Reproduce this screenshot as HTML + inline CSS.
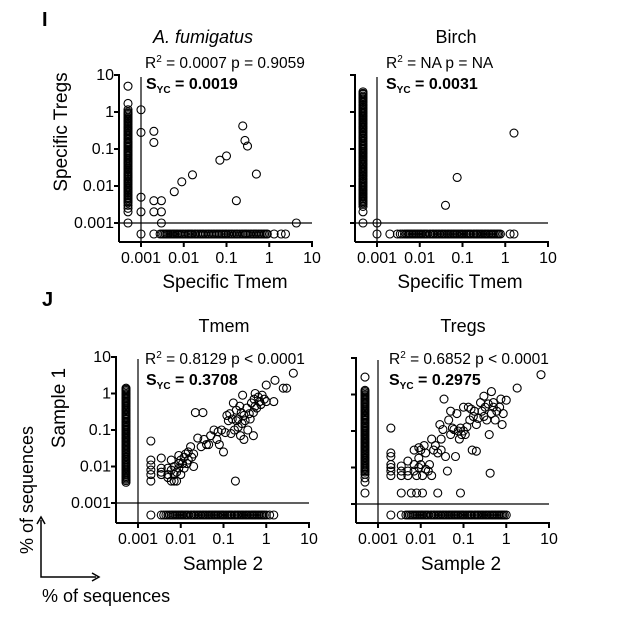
<!DOCTYPE html>
<html><head><meta charset="utf-8"><style>
body{margin:0;background:#fff;}
svg text{font-family:"Liberation Sans",Arial,sans-serif;fill:#000;}
</style></head><body>
<svg id="chart" width="640" height="619" viewBox="0 0 640 619" xmlns="http://www.w3.org/2000/svg">
<text x="42" y="26" font-size="20" font-weight="bold">I</text>
<text x="42" y="306" font-size="20" font-weight="bold">J</text>
<text x="203" y="43" font-size="18" font-style="italic" text-anchor="middle">A. fumigatus</text>
<text x="456" y="43" font-size="18" text-anchor="middle">Birch</text>
<text x="224" y="332" font-size="18" text-anchor="middle">Tmem</text>
<text x="463" y="332" font-size="18" text-anchor="middle">Tregs</text>
<text x="145" y="68" font-size="15.5">R<tspan font-size="10" dy="-6">2</tspan><tspan dy="6"> = 0.0007 p = 0.9059</tspan></text>
<text x="146" y="89" font-size="16" font-weight="bold">S<tspan font-size="10" dy="4">YC</tspan><tspan dy="-4"> = 0.0019</tspan></text>
<text x="386" y="68" font-size="15.5">R<tspan font-size="10" dy="-6">2</tspan><tspan dy="6"> = NA p = NA</tspan></text>
<text x="386" y="89" font-size="16" font-weight="bold">S<tspan font-size="10" dy="4">YC</tspan><tspan dy="-4"> = 0.0031</tspan></text>
<text x="145" y="364" font-size="15.5">R<tspan font-size="10" dy="-6">2</tspan><tspan dy="6"> = 0.8129 p &lt; 0.0001</tspan></text>
<text x="146" y="385" font-size="16" font-weight="bold">S<tspan font-size="10" dy="4">YC</tspan><tspan dy="-4"> = 0.3708</tspan></text>
<text x="389" y="364" font-size="15.5">R<tspan font-size="10" dy="-6">2</tspan><tspan dy="6"> = 0.6852 p &lt; 0.0001</tspan></text>
<text x="389" y="385" font-size="16" font-weight="bold">S<tspan font-size="10" dy="4">YC</tspan><tspan dy="-4"> = 0.2975</tspan></text>
<text x="225" y="288" font-size="19" text-anchor="middle">Specific Tmem</text>
<text x="460" y="288" font-size="19" text-anchor="middle">Specific Tmem</text>
<text transform="translate(67,132) rotate(-90)" font-size="19" text-anchor="middle">Specific Tregs</text>
<text x="223" y="570" font-size="19" text-anchor="middle">Sample 2</text>
<text x="461" y="570" font-size="19" text-anchor="middle">Sample 2</text>
<text transform="translate(65,408) rotate(-90)" font-size="19" text-anchor="middle">Sample 1</text>
<text transform="translate(33,490) rotate(-90)" font-size="18" text-anchor="middle">% of sequences</text>
<text x="42" y="602" font-size="18">% of sequences</text>
<path d="M41,520 V577 H96" fill="none" stroke="#000" stroke-width="1.5"/>
<path d="M37,524 L41,517 L45,524" fill="none" stroke="#000" stroke-width="1.5"/>
<path d="M92,573 L99,577 L92,581" fill="none" stroke="#000" stroke-width="1.5"/>
<g id="plots"></g>
</svg>
<script>
// ---- Data (values in % of sequences; 0 = absent, plotted in zero column/row) ----
const tickLabels = ["0.001","0.01","0.1","1","10"];
const tickValues = [0.001,0.01,0.1,1,10];

const afumZeroColY = [5,1.7,1.15,1.0,0.92,0.85,0.78,0.7,0.65,0.6,0.55,0.5,0.46,0.42,0.38,0.35,0.32,0.3,0.27,0.25,0.23,0.21,0.19,0.18,0.16,0.15,0.14,0.13,0.12,0.11,0.1,0.09,0.084,0.078,0.072,0.066,0.061,0.056,0.051,0.047,0.043,0.04,0.037,0.034,0.031,0.029,0.027,0.024,0.022,0.02,0.0185,0.017,0.0155,0.014,0.013,0.012,0.011,0.01,0.0092,0.0085,0.0078,0.0072,0.0066,0.006,0.0055,0.005,0.0046,0.0042,0.0038,0.0035,0.003,0.0025,0.002,0.001];
const afumZeroRowX = [0.001,0.002,0.0028,0.0031,0.0034,0.0037,0.004,0.0043,0.0047,0.005,0.0054,0.0058,0.0062,0.0067,0.0072,0.0078,0.0085,0.0092,0.01,0.011,0.012,0.013,0.014,0.015,0.016,0.018,0.019,0.021,0.023,0.025,0.027,0.029,0.032,0.035,0.038,0.041,0.045,0.049,0.053,0.058,0.063,0.068,0.074,0.08,0.087,0.095,0.1,0.11,0.12,0.13,0.14,0.155,0.17,0.18,0.2,0.22,0.24,0.26,0.28,0.3,0.33,0.36,0.39,0.43,0.47,0.51,0.56,0.61,0.66,0.72,0.78,0.85,0.9,1.3,1.9,2.4];
const afumX = [0.001,0.001,0.001,0.001,0.002,0.002,0.002,0.002,0.003,0.003,0.003,0.006,0.009,0.016,0.07,0.1,0.24,0.27,0.31,0.5,0.17,4.3];
const afumY = [1.15,0.28,0.005,0.002,0.3,0.15,0.004,0.002,0.004,0.002,0.001,0.007,0.013,0.02,0.05,0.065,0.42,0.17,0.12,0.021,0.004,0.001];

const birchZeroColY = [3.5,3.2,3.0,2.7,2.5,2.3,2.1,1.9,1.8,1.6,1.5,1.35,1.25,1.15,1.05,0.97,0.9,0.82,0.75,0.69,0.63,0.58,0.53,0.49,0.45,0.41,0.38,0.35,0.32,0.29,0.27,0.24,0.22,0.2,0.19,0.17,0.16,0.145,0.135,0.125,0.115,0.105,0.097,0.089,0.082,0.075,0.069,0.063,0.058,0.053,0.049,0.045,0.041,0.038,0.035,0.032,0.029,0.027,0.025,0.023,0.021,0.019,0.018,0.016,0.015,0.0135,0.0125,0.0115,0.0105,0.0097,0.009,0.0082,0.0075,0.0069,0.0063,0.0058,0.0053,0.0049,0.0045,0.0041,0.0038,0.0035,0.0032,0.0028,0.002,0.001];
const birchZeroRowX = [0.001,0.002,0.003,0.0035,0.0039,0.0044,0.0048,0.0052,0.0056,0.006,0.0065,0.007,0.0076,0.0082,0.0089,0.0096,0.0104,0.011,0.012,0.013,0.014,0.015,0.017,0.018,0.02,0.021,0.023,0.025,0.027,0.029,0.032,0.034,0.037,0.04,0.044,0.047,0.051,0.055,0.06,0.064,0.07,0.075,0.082,0.088,0.095,0.1,0.11,0.12,0.13,0.14,0.15,0.16,0.18,0.19,0.21,0.22,0.24,0.26,0.28,0.3,0.33,0.35,0.38,0.41,0.45,0.48,0.52,0.56,0.61,0.66,0.71,0.77,1.3,1.6];
const birchX = [0.001,0.04,0.075,1.6];
const birchY = [0.001,0.003,0.017,0.27];

const tmemZeroColY = [1.4,1.3,1.2,1.1,1.0,0.93,0.85,0.78,0.72,0.66,0.61,0.56,0.52,0.48,0.44,0.4,0.37,0.34,0.31,0.28,0.26,0.24,0.22,0.2,0.19,0.17,0.16,0.145,0.135,0.125,0.115,0.105,0.097,0.089,0.082,0.075,0.069,0.063,0.058,0.053,0.049,0.045,0.041,0.038,0.035,0.032,0.029,0.027,0.025,0.023,0.021,0.019,0.018,0.016,0.015,0.0135,0.0125,0.0115,0.0105,0.0097,0.009,0.0082,0.0075,0.0069,0.0063,0.0058,0.0053,0.0049,0.0045,0.0041,0.0037];
const tmemZeroRowX = [0.002,0.0035,0.004,0.0045,0.005,0.0055,0.006,0.0065,0.007,0.0076,0.0082,0.0089,0.0096,0.0104,0.011,0.012,0.013,0.014,0.015,0.017,0.018,0.02,0.021,0.023,0.025,0.027,0.029,0.032,0.034,0.037,0.04,0.044,0.047,0.051,0.055,0.06,0.064,0.07,0.075,0.082,0.088,0.095,0.1,0.11,0.12,0.13,0.14,0.15,0.16,0.18,0.19,0.21,0.22,0.24,0.26,0.28,0.3,0.33,0.35,0.38,0.41,0.45,0.48,0.52,0.56,0.61,0.66,0.71,0.77,0.83,0.9,1.0,1.2,1.5];
const tmemX = [0.002,0.002,0.002,0.002,0.002,0.002,0.0035,0.0035,0.0035,0.0035,0.005,0.005,0.005,0.006,0.006,0.006,0.007,0.007,0.007,0.008,0.008,0.009,0.009,0.009,0.01,0.01,0.011,0.012,0.012,0.013,0.014,0.015,0.015,0.017,0.018,0.02,0.02,0.022,0.025,0.03,0.033,0.035,0.04,0.045,0.05,0.06,0.07,0.075,0.08,0.09,0.1,0.11,0.12,0.13,0.14,0.15,0.16,0.17,0.18,0.19,0.2,0.2,0.22,0.22,0.24,0.25,0.26,0.27,0.28,0.3,0.3,0.32,0.35,0.37,0.4,0.42,0.45,0.5,0.5,0.52,0.55,0.55,0.6,0.65,0.7,0.75,0.8,0.9,1.0,1.0,1.5,1.6,2.5,3.0,4.3];
const tmemY = [0.05,0.015,0.011,0.008,0.006,0.004,0.017,0.009,0.007,0.006,0.009,0.006,0.005,0.015,0.008,0.004,0.01,0.006,0.004,0.007,0.004,0.02,0.012,0.009,0.006,0.015,0.012,0.018,0.009,0.022,0.012,0.025,0.015,0.035,0.018,0.01,0.022,0.3,0.06,0.035,0.3,0.055,0.04,0.04,0.07,0.1,0.055,0.09,0.04,0.1,0.025,0.085,0.25,0.18,0.28,0.08,0.2,0.55,0.1,0.004,0.18,0.35,0.12,0.2,0.45,0.07,0.3,0.15,0.9,0.055,0.25,0.18,0.4,0.1,0.28,0.2,0.55,0.3,0.07,0.7,0.45,1.0,0.4,0.8,0.6,0.5,0.9,0.7,0.6,1.7,0.6,2.3,1.4,1.4,3.6];

const tregsZeroColY = [3.0,1.3,1.2,1.1,1.0,0.93,0.85,0.78,0.72,0.66,0.61,0.56,0.52,0.48,0.44,0.4,0.37,0.34,0.31,0.28,0.26,0.24,0.22,0.2,0.19,0.17,0.16,0.145,0.135,0.125,0.115,0.105,0.097,0.089,0.082,0.075,0.069,0.063,0.058,0.053,0.049,0.045,0.041,0.038,0.035,0.032,0.029,0.027,0.025,0.023,0.021,0.019,0.018,0.016,0.015,0.0135,0.0125,0.0115,0.0105,0.0097,0.009,0.0082,0.0075,0.0065,0.0052,0.004,0.002];
const tregsZeroRowX = [0.002,0.0035,0.0045,0.005,0.0055,0.006,0.0065,0.007,0.0076,0.0082,0.0089,0.0096,0.0104,0.011,0.012,0.013,0.014,0.015,0.017,0.018,0.02,0.021,0.023,0.025,0.027,0.029,0.032,0.034,0.037,0.04,0.044,0.047,0.051,0.055,0.06,0.064,0.07,0.075,0.082,0.088,0.095,0.1,0.11,0.12,0.13,0.14,0.15,0.16,0.18,0.19,0.21,0.22,0.24,0.26,0.28,0.3,0.33,0.35,0.38,0.41,0.45,0.48,0.52,0.56,0.61,0.66,0.71,0.77,0.83,0.9,1.0];
const tregsX = [0.002,0.002,0.002,0.002,0.002,0.002,0.002,0.0035,0.0035,0.0035,0.0035,0.005,0.005,0.005,0.006,0.007,0.007,0.007,0.008,0.008,0.009,0.009,0.009,0.01,0.01,0.011,0.011,0.012,0.013,0.013,0.015,0.016,0.018,0.018,0.02,0.022,0.025,0.025,0.028,0.03,0.03,0.033,0.035,0.038,0.042,0.045,0.05,0.05,0.055,0.06,0.065,0.07,0.075,0.08,0.085,0.085,0.09,0.1,0.1,0.11,0.12,0.13,0.14,0.15,0.16,0.17,0.18,0.2,0.2,0.22,0.25,0.27,0.3,0.3,0.32,0.35,0.38,0.4,0.42,0.45,0.45,0.5,0.5,0.55,0.6,0.7,0.75,0.8,0.85,1.0,1.8,6.5];
const tregsY = [0.12,0.025,0.02,0.012,0.01,0.008,0.006,0.011,0.008,0.006,0.002,0.015,0.008,0.006,0.002,0.03,0.012,0.008,0.006,0.002,0.035,0.018,0.01,0.03,0.012,0.006,0.002,0.04,0.025,0.009,0.008,0.012,0.06,0.006,0.03,0.04,0.025,0.002,0.15,0.03,0.06,0.11,0.75,0.02,0.008,0.2,0.08,0.35,0.12,0.11,0.02,0.3,0.1,0.06,0.12,0.002,0.08,0.1,0.45,0.08,0.13,0.45,0.2,0.4,0.03,0.25,0.35,0.028,0.15,0.22,0.6,0.35,0.25,0.9,0.45,0.2,0.55,0.08,0.007,0.3,1.2,0.45,0.6,0.2,0.35,0.45,0.75,0.15,0.3,0.7,1.5,3.5];

// ---- Panels (layout only) ----
const NS = "http://www.w3.org/2000/svg";
const root = document.getElementById("plots");
const panels = [
  {id:"afum", ax:119, xo:141, dx:42.75, yb:242, yo:223, dy:37, zcx:128, zry:234, labels:true, zc:afumZeroColY, zr:afumZeroRowX, xs:afumX, ys:afumY},
  {id:"birch", ax:355, xo:377, dx:42.75, yb:242, yo:223, dy:37, zcx:363, zry:234, labels:false, zc:birchZeroColY, zr:birchZeroRowX, xs:birchX, ys:birchY},
  {id:"tmem", ax:116, xo:138, dx:42.75, yb:523, yo:503, dy:36.5, zcx:126, zry:515, labels:true, zc:tmemZeroColY, zr:tmemZeroRowX, xs:tmemX, ys:tmemY},
  {id:"tregs", ax:356, xo:378, dx:42.75, yb:523, yo:504, dy:36.5, zcx:365, zry:515, labels:false, zc:tregsZeroColY, zr:tregsZeroRowX, xs:tregsX, ys:tregsY}
];
function mk(tag, attrs, parent){const e=document.createElementNS(NS,tag);for(const k in attrs)e.setAttribute(k,attrs[k]);parent.appendChild(e);return e;}
panels.forEach(p=>{
  const g = mk("g",{},root);
  
  
  const sx = v => v<=0 ? p.zcx : p.xo + (Math.log10(v)+3)*p.dx;
  const sy = v => v<=0 ? p.zry : p.yo - (Math.log10(v)+3)*p.dy;
  const xEnd = sx(10), yTop = sy(10);
  const yAxis = mk("line",{x1:p.ax,y1:yTop-1,x2:p.ax,y2:p.yb,stroke:"#000","stroke-width":2},g);
  
  
  const xAxis = mk("line",{x1:p.ax,y1:p.yb,x2:xEnd+1,y2:p.yb,stroke:"#000","stroke-width":2},g);
  
  
  const vl = mk("line",{x1:p.xo,y1:yTop+2,x2:p.xo,y2:p.yb,stroke:"#000","stroke-width":1.2},g);
  
  
  const hl = mk("line",{x1:p.ax,y1:p.yo,x2:xEnd,y2:p.yo,stroke:"#000","stroke-width":1.2},g);
  
  
  tickValues.forEach((v,i)=>{
    const tx = mk("line",{x1:sx(v),y1:p.yb,x2:sx(v),y2:p.yb+5,stroke:"#000","stroke-width":2},g);
    
    
    const tl = mk("text",{x:sx(v),y:p.yb+21,"font-size":16,"text-anchor":"middle"},g);
    tl.textContent = tickLabels[i];
    
    
    const ty = mk("line",{x1:p.ax-5,y1:sy(v),x2:p.ax,y2:sy(v),stroke:"#000","stroke-width":2},g);
    
    
    if(p.labels){
      const yl = mk("text",{x:p.ax-5,y:sy(v)+5,"font-size":16,"text-anchor":"end"},g);
      yl.textContent = tickLabels[i];
      
      
    }
  });
  const dot = (x,y)=>{
    const c = mk("circle",{cx:sx(x),cy:sy(y),r:4,fill:"none",stroke:"#000","stroke-width":1.1},g);
    
    
  };
  p.zc.forEach(y=>dot(0,y));
  p.zr.forEach(x=>dot(x,0));
  p.xs.forEach((x,i)=>dot(x,p.ys[i]));
});
</script>
</body></html>
